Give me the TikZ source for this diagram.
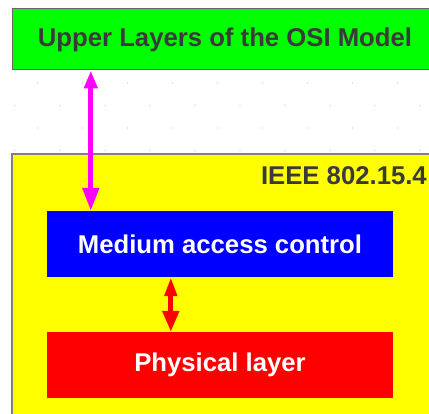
\documentclass[tikz,border=0pt]{standalone}
\usepackage{fontspec}
\setmainfont{Liberation Sans}
\usetikzlibrary{arrows.meta}

\definecolor{upgreen}{RGB}{0,255,0}
\definecolor{stdyellow}{RGB}{255,255,0}
\definecolor{macblue}{RGB}{0,0,255}
\definecolor{phyred}{RGB}{255,0,0}
\definecolor{linkmag}{RGB}{255,0,255}
\definecolor{labelgray}{RGB}{58,58,58}

\begin{document}
\begin{tikzpicture}[
    x=1pt, y=1pt,
    every node/.style={font=\fontsize{25.7}{30}\selectfont\bfseries, inner sep=0pt},
    layerbox/.style={minimum width=346pt, minimum height=66pt, text=white},
    gridpt/.style={fill=black!22},
    linkarrow/.style={line width=5pt},
]

\useasboundingbox (0,0) rectangle (429,414);
\clip (0,0) rectangle (429,414);

% Faint dot grid behind the boxes
\foreach \yy in {331,286} {
  \foreach \k in {0,...,9} {
    \fill[gridpt] (37.5+45*\k, \yy) circle (0.6pt);
  }
}
\foreach \yy in {308.5,263.5} {
  \foreach \k in {0,...,9} {
    \fill[gridpt] (15+45*\k, \yy) circle (0.6pt);
  }
}

% Upper layers (runs off the right edge)
\node[draw=black!60, line width=1pt, fill=upgreen, text=labelgray,
      minimum width=426pt, minimum height=61pt] (upper) at (225,374.5)
      {Upper Layers of the OSI Model};

% IEEE 802.15.4 container
\node[draw=black!50, line width=1.2pt, fill=stdyellow,
      minimum width=440pt, minimum height=276pt] (ieee) at (232,122) {};
\node[anchor=base east, text=labelgray] (ieeelbl) at (427,229) {IEEE 802.15.4};

% MAC and PHY
\node[layerbox, fill=macblue] (mac) at (220,170) {Medium access control};
\node[layerbox, fill=phyred]  (phy) at (220,49)  {Physical layer};

% Links
\draw[linkarrow, linkmag,
      {Triangle[length=18pt,width=13pt]}-{Triangle[length=23pt,width=16pt]}]
      ([xshift=44pt]mac.north west |- upper.south) -- ([xshift=44pt]mac.north west);
\draw[linkarrow, phyred,
      {Triangle[length=19pt,width=12pt]}-{Triangle[length=21pt,width=16pt]}]
      ([xshift=124pt]mac.south west) -- ([xshift=124pt]phy.north west);

\end{tikzpicture}
\end{document}
